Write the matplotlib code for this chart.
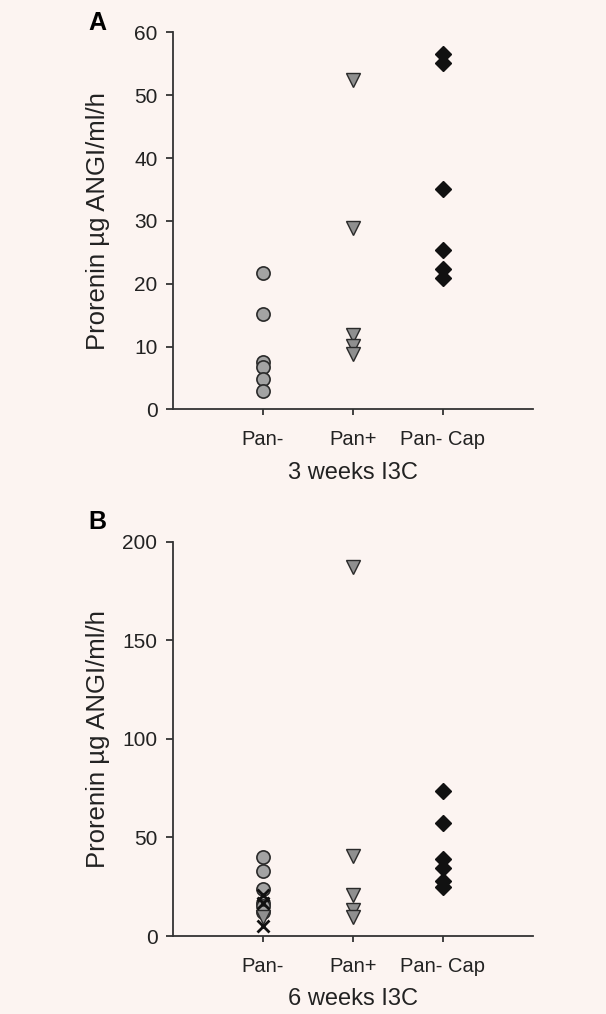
import numpy as np
import matplotlib.pyplot as plt

plt.rcParams['font.family'] = ['Liberation Sans', 'DejaVu Sans']

groups = ['Pan-', 'Pan+', 'Pan- Cap']

# 3 weeks I3C
a_pan_minus = [21.7, 15.2, 7.5, 6.8, 4.9, 3.0]
a_pan_plus = [52.4, 28.9, 11.9, 10.1, 8.8]
a_pan_cap = [56.5, 55.1, 35.0, 25.3, 22.4, 20.9]

# 6 weeks I3C
b_pan_minus_circ = [40.0, 33.0, 24.0, 17.0, 15.0, 12.0]
b_pan_minus_x = [21.0, 16.5, 5.0]
b_pan_minus_tri = [9.5]
b_pan_plus = [187.0, 40.5, 20.8, 13.2, 9.8]
b_pan_cap = [73.4, 57.1, 39.3, 34.6, 27.8, 24.7]

bg = '#fcf4f1'
grey = '#a3a3a3'
edge = '#2a2a2a'

fig = plt.figure(figsize=(6.06, 10.14), dpi=100, facecolor=bg)
ax1 = fig.add_axes([0.285, 0.5963, 0.5945, 0.3718])
ax2 = fig.add_axes([0.285, 0.0769, 0.5945, 0.3889])


def style(ax, ymax, step, xlabel, letter, ly):
    ax.set_facecolor(bg)
    ax.set_xlim(0, 4)
    ax.set_ylim(0, ymax)
    ax.set_yticks(np.arange(0, ymax + 1, step))
    ax.set_xticks([1, 2, 3])
    ax.set_xticklabels(groups)
    for s in ['top', 'right']:
        ax.spines[s].set_visible(False)
    for s in ['left', 'bottom']:
        ax.spines[s].set_linewidth(1.3)
        ax.spines[s].set_color('#333333')
    ax.tick_params(axis='y', length=5, width=1.3, color='#333333', labelsize=15, pad=6, colors='#222222')
    ax.tick_params(axis='x', length=4, width=1.3, color='#333333', labelsize=14.5, pad=11, colors='#222222')
    ax.set_ylabel('Prorenin µg ANGI/ml/h', fontsize=18.5, color='#222222')
    ax.yaxis.set_label_coords(-0.175, 0.5)
    ax.set_xlabel(xlabel, fontsize=17, labelpad=9, color='#222222')
    ax.text(-0.21, ly, letter, transform=ax.transAxes, fontsize=18, fontweight='bold',
            ha='center', va='center')


def pts(ax, x, vals, **kw):
    ax.plot([x] * len(vals), vals, linestyle='none', clip_on=False, **kw)


circ = dict(marker='o', markersize=9.5, markerfacecolor=grey, markeredgecolor=edge, markeredgewidth=1.2)
tri = dict(marker='v', markersize=10, markerfacecolor='#8f8f8f', markeredgecolor=edge, markeredgewidth=1.0)
dia = dict(marker='D', markersize=8.0, markerfacecolor='#111111', markeredgecolor='#111111', markeredgewidth=1.0)
cross = dict(marker='x', markersize=8, markeredgecolor='#111111', markeredgewidth=2.0)

style(ax1, 60, 10, '3 weeks I3C', 'A', 1.025)
pts(ax1, 1, a_pan_minus, **circ)
pts(ax1, 2, a_pan_plus, **tri)
pts(ax1, 3, a_pan_cap, **dia)

style(ax2, 200, 50, '6 weeks I3C', 'B', 1.05)
pts(ax2, 1, b_pan_minus_circ, **circ)
pts(ax2, 1, b_pan_minus_tri, **tri)
pts(ax2, 1, b_pan_minus_x, **cross)
pts(ax2, 2, b_pan_plus, **tri)
pts(ax2, 3, b_pan_cap, **dia)

fig.savefig('out.png', dpi=100, facecolor=bg)
